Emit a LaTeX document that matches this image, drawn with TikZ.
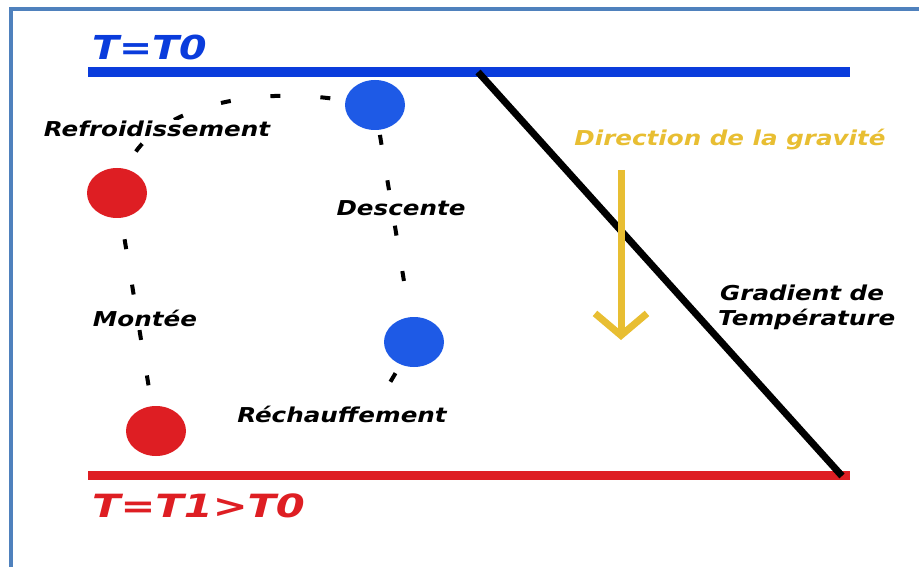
\documentclass[tikz,border=0pt]{standalone}
\usepackage{fontspec}
\newfontfamily\lblfont[FakeStretch=1.2]{DejaVu Sans}
\newfontfamily\hotfont[FakeStretch=1.3]{DejaVu Sans}
\usetikzlibrary{arrows.meta,shapes.geometric,backgrounds}
\definecolor{frameblue}{RGB}{79,129,189}
\definecolor{coldblue}{RGB}{10,60,220}
\definecolor{ballblue}{RGB}{30,90,230}
\definecolor{hotred}{RGB}{222,30,35}
\definecolor{gold}{RGB}{232,190,50}

\begin{document}
\begin{tikzpicture}[x=1pt,y=-1pt,
	ball/.style={ellipse,minimum width=60pt,minimum height=50pt,inner sep=0pt},
	txt/.style={font=\lblfont\bfseries\itshape\fontsize{20.5}{24}\selectfont,inner sep=1pt},
	lbl/.style={txt,fill=white},
	cyc/.style={line width=4pt,dash pattern=on 10pt off 36pt,shorten >=6pt},
	level/.style={line width=10pt}]
	\useasboundingbox (0,0) rectangle (919,567);
	\draw[frameblue,line width=4pt] (11.3,600) -- (11.3,9.5) -- (940,9.5);
	
	\coordinate (C0) at (88,72);
	\coordinate (C1) at (850,72);
	\coordinate (H0) at (88,475);
	\coordinate (H1) at (850,475);
	\coordinate (G0) at (478,72);
	\coordinate (G1) at (842,476);
	\coordinate (gA) at (621,170);
	\coordinate (gB) at (621,340);
	
	\draw[level,coldblue] (C0) -- (C1);
	\draw[level,hotred,line width=9pt] (H0) -- (H1);
	\draw[line width=7pt] (G0) -- (G1);
	\draw[gold,line width=7pt,-{Straight Barb[length=22pt,width=52pt]}] (gA) -- (gB);
	
	\node[ball,fill=ballblue](Bh) at (375,105){};
	\node[ball,fill=hotred](Rh) at (117,193){};
	\node[ball,fill=ballblue](Bb) at (414,342){};
	\node[ball,fill=hotred](Rb) at (156,431){};
	
	\node[lbl,anchor=base](refr) at (157,137){Refroidissement};
	\node[lbl,anchor=base](desc) at (401,215){Descente};
	\node[lbl,anchor=base](mont) at (145,326){Montée};
	\node[lbl,anchor=base](rech) at (342,422){Réchauffement};
	
	\begin{scope}[on background layer]
	\draw[cyc,dash pattern=on 10pt off 40pt,dash phase=30] (Rh) .. controls (150,108) and (250,86) .. (Bh);
	\path (Rb) edge[cyc,dash phase=25] (Rh)
		  (Bh) edge[cyc,dash phase=41] (Bb)
		  (Bb) edge[cyc,dash phase=36] ([xshift=35pt]rech.north);
	\end{scope}
	
	\node[txt,text=gold,anchor=base](grav) at (730,146){Direction de la gravité};
	\node[txt,anchor=base west](grad1) at (719,300){Gradient de};
	\node[txt,anchor=base west](grad2) at (717,325){Température};
	
	\node[font=\lblfont\bfseries\itshape\fontsize{33}{36}\selectfont,text=coldblue,anchor=base west,inner sep=0pt](T0) at (92,60){T=T0};
	\node[font=\hotfont\bfseries\itshape\fontsize{32}{36}\selectfont,text=hotred,anchor=base west,inner sep=0pt](T1) at (92,517){T=T1>T0};
\end{tikzpicture}
\end{document}
